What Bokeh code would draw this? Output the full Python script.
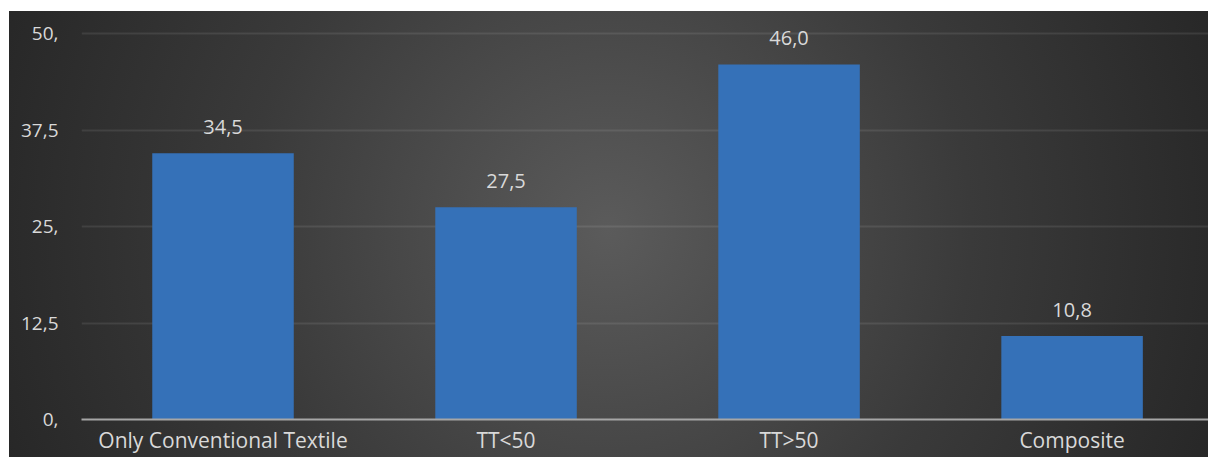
from bokeh.plotting import figure
from bokeh.models import Range1d, FixedTicker, ColumnDataSource
from bokeh.core.properties import value
from bokeh.embed import file_html
from bokeh.resources import INLINE

categories = ["Only Conventional Textile", "TT<50", "TT>50", "Composite"]
values = [34.5, 27.5, 46.0, 10.8]
value_labels = ["34,5", "27,5", "46,0", "10,8"]
y_ticks = [0, 12.5, 25, 37.5, 50]
y_tick_labels = ["0,", "12,5", "25,", "37,5", "50,"]

FONT = "Open Sans"
TXT = "#d9d9d9"

xs = [i + 0.5 for i in range(len(categories))]
src = ColumnDataSource(dict(x=xs, top=values, label=value_labels))

p = figure(width=1208, height=457, output_backend="svg", toolbar_location=None,
           x_range=Range1d(0, 3.982), y_range=Range1d(0, 52.85),
           min_border_left=81, min_border_right=0, min_border_top=11, min_border_bottom=38)
p.outline_line_color = None
p.background_fill_alpha = 0
p.border_fill_alpha = 0
p.styles = {"background": (
    "linear-gradient(#ffffff,#ffffff) 0 0/100% 11px no-repeat, "
    "linear-gradient(#ffffff,#ffffff) 0 0/9px 100% no-repeat, "
    "radial-gradient(circle 660px at 608px 230px, #5b5b5b 0%, #3a3a3a 55%, #262626 100%)")}

p.vbar(x="x", top="top", bottom=0, width=0.5, source=src,
       fill_color="#3571b8", line_color=None)
p.text(x="x", y="top", text="label", source=src, text_align="center", text_baseline="alphabetic",
       y_offset=-26, text_color=TXT, text_font=value(FONT), text_font_size="20px")

# axes
xa = p.xaxis[0]
xa.ticker = FixedTicker(ticks=xs)
xa.major_label_overrides = {x: c for x, c in zip(xs, categories)}
xa.axis_line_color = "#a6a6a6"
xa.axis_line_width = 2
xa.major_tick_line_color = None
xa.major_tick_out = 0
xa.major_tick_in = 0
xa.minor_tick_line_color = None
xa.minor_tick_out = 0
xa.major_label_standoff = 6
xa.major_label_text_color = TXT
xa.major_label_text_font = FONT
xa.major_label_text_font_size = "21px"

ya = p.yaxis[0]
ya.ticker = FixedTicker(ticks=y_ticks)
ya.major_label_overrides = {t: l for t, l in zip(y_ticks, y_tick_labels)}
ya.axis_line_color = None
ya.major_tick_line_color = None
ya.major_tick_out = 0
ya.major_tick_in = 0
ya.minor_tick_line_color = None
ya.minor_tick_out = 0
ya.major_label_standoff = 23
ya.major_label_text_color = TXT
ya.major_label_text_font = FONT
ya.major_label_text_font_size = "19px"

p.xgrid.grid_line_color = None
p.ygrid.grid_line_color = "#ffffff"
p.ygrid.grid_line_alpha = 0.09
p.ygrid.grid_line_width = 2

open("out.html", "w").write(file_html(p, INLINE))
